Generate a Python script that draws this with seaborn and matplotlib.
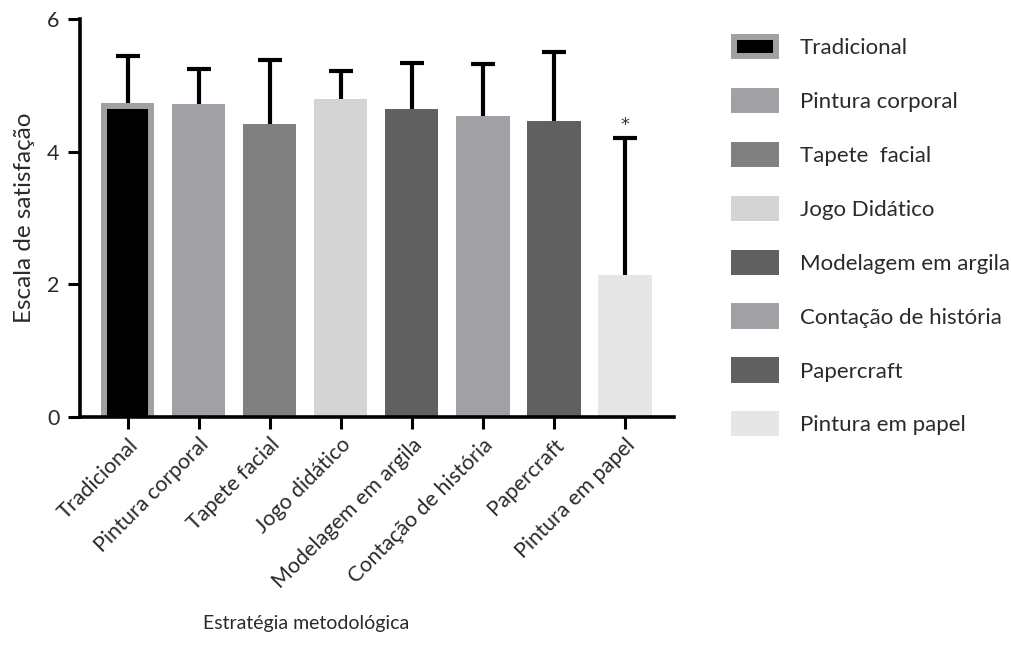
import matplotlib
matplotlib.use("Agg")
import matplotlib.pyplot as plt
from matplotlib.patches import Patch
import seaborn as sns
import pandas as pd

# Mean satisfaction score and standard deviation per teaching strategy
categorias = ["Tradicional", "Pintura corporal", "Tapete facial", "Jogo didático",
              "Modelagem em argila", "Contação de história", "Papercraft", "Pintura em papel"]
legenda = ["Tradicional", "Pintura corporal", "Tapete  facial", "Jogo Didático",
           "Modelagem em argila", "Contação de história", "Papercraft", "Pintura em papel"]
medias = [4.74, 4.72, 4.42, 4.79, 4.64, 4.54, 4.46, 2.15]
desvios = [0.71, 0.53, 0.97, 0.43, 0.70, 0.78, 1.04, 2.06]
cores = ["#000000", "#a1a1a5", "#808080", "#d4d4d4", "#606060", "#a1a1a5", "#606060", "#e6e6e6"]
borda_tradicional = "#a1a1a5"
significativo = [False, False, False, False, False, False, False, True]

df = pd.DataFrame({"estrategia": categorias, "media": medias, "dp": desvios})

sns.set_style("ticks")
plt.rcParams["font.family"] = ["Lato", "DejaVu Sans"]
plt.rcParams["text.color"] = "#2a2a2a"
plt.rcParams["axes.labelcolor"] = "#2a2a2a"
plt.rcParams["xtick.labelcolor"] = "#2a2a2a"
plt.rcParams["ytick.labelcolor"] = "#2a2a2a"

fig = plt.figure(figsize=(10.12, 6.58), dpi=100)
ax = fig.add_axes([0.079, 0.366, 0.587, 0.605])

sns.barplot(data=df, x="estrategia", y="media", hue="estrategia", palette=cores,
            width=0.75, errorbar=None, legend=False, ax=ax, saturation=1)

# First bar: black fill with a grey inner frame on the sides and top;
# the bar is run below the baseline so the frame's bottom edge is hidden by the axes clip
first = ax.patches[0]
first.set_y(first.get_y() - 0.3)
first.set_height(first.get_height() + 0.3)
first.set_edgecolor(borda_tradicional)
first.set_linewidth(8.6)
first.set_clip_path(first.get_path(), first.get_transform())
for p in ax.patches[1:]:
    p.set_linewidth(0)

# Upper-only error bars (mean + SD)
xs = list(range(len(categorias)))
_, caps, _ = ax.errorbar(xs, df["media"], yerr=[[0] * len(desvios), df["dp"]], fmt="none",
                         ecolor="black", elinewidth=3, capsize=8.6, capthick=3, zorder=3)
lower_cap = min(caps, key=lambda c: sum(c.get_ydata()))
lower_cap.set_visible(False)

for i, sig in enumerate(significativo):
    if sig:
        ax.text(i, medias[i] + desvios[i] + 0.2, "*", ha="center", va="center",
                fontsize=13, color="#333333", family="DejaVu Sans")

ax.set_xlim(-0.671, 7.69)
ax.set_ylim(0, 6)
ax.set_yticks([0, 2, 4, 6])
ax.set_xlabel("")
ax.set_ylabel("Escala de satisfação", fontsize=17.5, labelpad=9)
ax.tick_params(axis="both", length=8.6, width=2.2, pad=4, color="black")
ax.tick_params(axis="y", labelsize=15.5, pad=6)
ax.set_xticks(xs)
ax.set_xticklabels(categorias, rotation=45, ha="right", rotation_mode="anchor", fontsize=15.5)
for s in ["top", "right"]:
    ax.spines[s].set_visible(False)
for s in ["left", "bottom"]:
    ax.spines[s].set_linewidth(2.6)
    ax.spines[s].set_color("black")

fig.text(306 / 1012, 1 - 624 / 658, "Estratégia metodológica", ha="center", va="center",
         fontsize=14)

handles = []
for i, (lab, c) in enumerate(zip(legenda, cores)):
    ec = borda_tradicional if i == 0 else c
    handles.append(Patch(facecolor=c, edgecolor=ec, linewidth=4.3, label=lab))
leg = fig.legend(handles=handles, loc="upper left", bbox_to_anchor=(734 / 1012, 1 - 37 / 658),
                 frameon=False, fontsize=16, handlelength=1.9, handleheight=0.95,
                 handletextpad=1.05, labelspacing=1.47, borderpad=0, borderaxespad=0)

fig.savefig("out.png", dpi=100)
